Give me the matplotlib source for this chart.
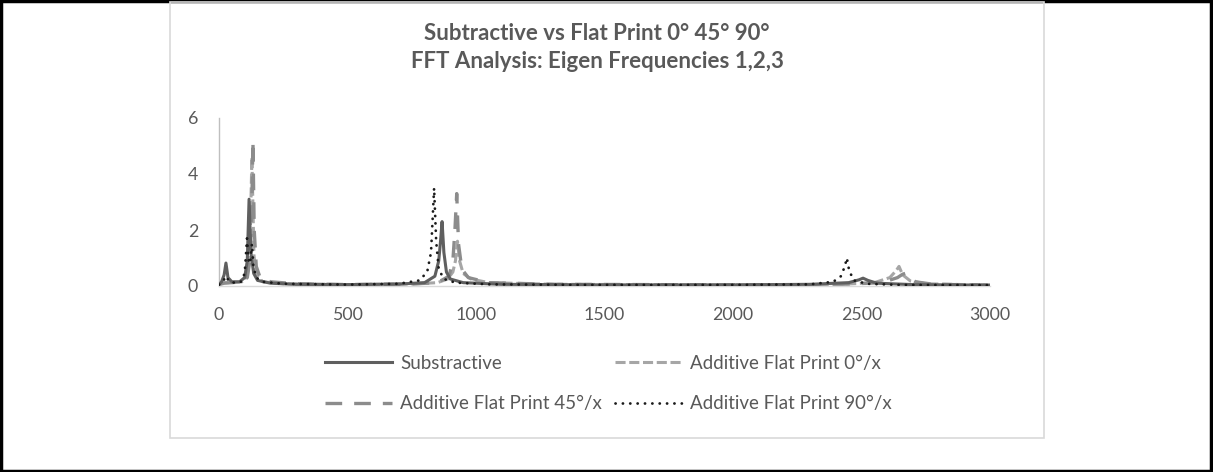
import matplotlib
matplotlib.use("Agg")
import matplotlib.pyplot as plt
from matplotlib.patches import Rectangle

plt.rcParams['font.family'] = ['Lato', 'DejaVu Sans']

# ---------------- data ----------------
sub_f = [0, 10, 20, 27, 35, 50, 80, 100, 110, 117, 124, 135, 150, 200, 300, 500,
         700, 800, 840, 855, 862, 868, 875, 885, 900, 950, 1100, 1500, 2000, 2300,
         2450, 2490, 2506, 2525, 2560, 2700, 3000]
sub_y = [0.05, 0.15, 0.4, 0.82, 0.3, 0.15, 0.15, 0.3, 0.9, 3.1, 1.2, 0.45, 0.2, 0.1,
         0.06, 0.05, 0.07, 0.12, 0.35, 0.9, 1.6, 2.3, 1.2, 0.5, 0.25, 0.12, 0.06, 0.04,
         0.04, 0.06, 0.12, 0.22, 0.28, 0.2, 0.1, 0.05, 0.03]

a0_f = [0, 20, 50, 90, 110, 120, 128, 136, 145, 170, 250, 500, 750, 850, 890, 910,
        920, 928, 936, 950, 980, 1050, 1300, 2000, 2400, 2550, 2610, 2635, 2646,
        2660, 2690, 2750, 3000]
a0_y = [0.05, 0.12, 0.12, 0.15, 0.35, 1.2, 4.6, 1.1, 0.4, 0.15, 0.08, 0.05, 0.07,
        0.12, 0.25, 0.5, 0.9, 1.6, 0.9, 0.45, 0.25, 0.12, 0.06, 0.04, 0.05, 0.12,
        0.3, 0.55, 0.7, 0.4, 0.18, 0.08, 0.03]

a45_f = [0, 20, 50, 90, 110, 122, 128, 132, 137, 145, 160, 200, 300, 500, 750, 850,
         895, 910, 918, 925, 932, 945, 970, 1050, 1300, 2000, 2400, 2580, 2640,
         2660, 2670, 2685, 2710, 2780, 3000]
a45_y = [0.05, 0.1, 0.12, 0.15, 0.3, 1.0, 3.0, 5.2, 2.0, 0.7, 0.3, 0.15, 0.08,
         0.05, 0.07, 0.12, 0.35, 0.9, 2.0, 3.3, 1.5, 0.6, 0.3, 0.12, 0.06, 0.04,
         0.05, 0.12, 0.3, 0.42, 0.45, 0.3, 0.15, 0.06, 0.03]

a90_f = [0, 15, 27, 40, 60, 85, 100, 109, 116, 122, 128, 134, 145, 170, 250, 500,
         700, 780, 810, 825, 837, 845, 855, 875, 920, 1050, 1400, 2000, 2300, 2390,
         2420, 2435, 2443, 2452, 2470, 2520, 2650, 3000]
a90_y = [0.05, 0.15, 0.35, 0.15, 0.12, 0.15, 0.45, 1.7, 0.8, 0.9, 1.5, 0.7, 0.3,
         0.15, 0.08, 0.05, 0.08, 0.2, 0.5, 1.2, 3.5, 1.6, 0.6, 0.25, 0.12, 0.06,
         0.04, 0.04, 0.06, 0.15, 0.35, 0.7, 1.0, 0.55, 0.2, 0.08, 0.04, 0.03]

labels = ["Substractive", "Additive Flat Print 0°/x",
          "Additive Flat Print 45°/x", "Additive Flat Print 90°/x"]
x_ticks = [0, 500, 1000, 1500, 2000, 2500, 3000]
y_ticks = [0, 2, 4, 6]
title_lines = ["Subtractive vs Flat Print 0° 45° 90°",
               "FFT Analysis: Eigen Frequencies 1,2,3"]

# ---------------- figure ----------------
W, H = 1213, 472
fig = plt.figure(figsize=(W / 100, H / 100), dpi=100)
fig.patch.set_facecolor("white")

def fx(px):
    return px / W

def fy(py):
    return 1 - py / H

# outer black frame
fig.patches.append(Rectangle((0.001, 0.002), 0.997, 0.996, transform=fig.transFigure,
                             fill=False, edgecolor="black", linewidth=2.5, zorder=0))
# chart area light gray frame
fig.patches.append(Rectangle((fx(170), fy(438)), fx(1044) - fx(170), fy(2) - fy(438),
                             transform=fig.transFigure, fill=False,
                             edgecolor="#D9D9D9", linewidth=1.2, zorder=0))

ax = fig.add_axes([fx(219), fy(286), fx(990) - fx(219), fy(118) - fy(286)])
ax.set_facecolor("none")

l_sub, = ax.plot(sub_f, sub_y, color="#5f5f5f", lw=2.2, solid_joinstyle="round",
                 label=labels[0], zorder=3)
l_a0, = ax.plot(a0_f, a0_y, color="#A6A6A6", lw=2.2, dashes=(3.3, 1.2),
                label=labels[1], zorder=2)
l_a45, = ax.plot(a45_f, a45_y, color="#8C8C8C", lw=2.4, dashes=(5, 3.6),
                 label=labels[2], zorder=2)
l_a90, = ax.plot(a90_f, a90_y, color="#1a1a1a", lw=2.0, dashes=(0.05, 2.6),
                 dash_capstyle="round", label=labels[3], zorder=4)

ax.set_xlim(0, 3000)
ax.set_ylim(0, 6)
ax.set_xticks(x_ticks)
ax.set_yticks(y_ticks)
ax.tick_params(axis="both", length=0, labelsize=12.8, labelcolor="#595959")
ax.tick_params(axis="x", pad=15)
ax.tick_params(axis="y", pad=15)
for s in ["top", "right"]:
    ax.spines[s].set_visible(False)
ax.spines["left"].set_color("#BFBFBF")
ax.spines["bottom"].set_color("#D9D9D9")
ax.spines["left"].set_linewidth(1.0)
ax.spines["bottom"].set_linewidth(1.0)

fig.text(fx(597), fy(33), title_lines[0], ha="center", va="center", fontsize=16,
         fontweight="bold", color="#595959")
fig.text(fx(597), fy(62), title_lines[1], ha="center", va="center", fontsize=16,
         fontweight="bold", color="#595959")

fig.legend(handles=[l_sub, l_a45, l_a0, l_a90],
           labels=[labels[0], labels[2], labels[1], labels[3]],
           ncol=2, loc="upper left", bbox_to_anchor=(fx(325), fy(355)),
           frameon=False, fontsize=13.5, handlelength=3.57, handletextpad=0.43,
           columnspacing=0.7, labelspacing=1.24, borderaxespad=0, borderpad=0,
           labelcolor="#595959")

fig.savefig("out.png", dpi=100)
